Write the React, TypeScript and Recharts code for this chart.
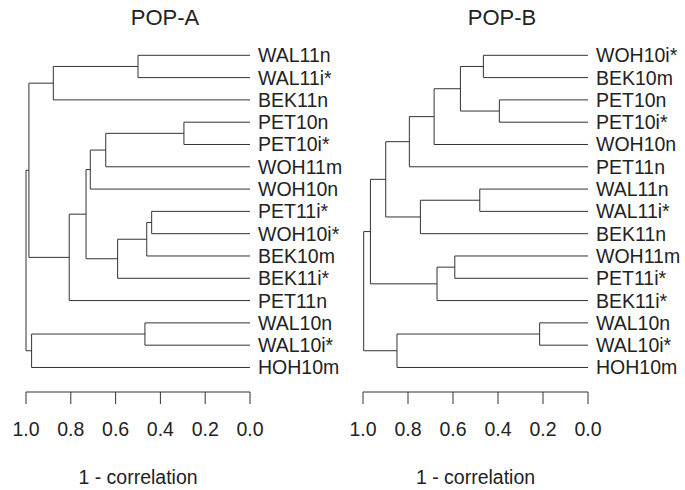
import { LineChart, Line, XAxis, YAxis } from "recharts";

// leaf order, top to bottom, as drawn in each dendrogram
const leavesA = [
  "WAL11n", "WAL11i*", "BEK11n", "PET10n", "PET10i*", "WOH11m", "WOH10n", "PET11i*",
  "WOH10i*", "BEK10m", "BEK11i*", "PET11n", "WAL10n", "WAL10i*", "HOH10m",
];
const leavesB = [
  "WOH10i*", "BEK10m", "PET10n", "PET10i*", "WOH10n", "PET11n", "WAL11n", "WAL11i*",
  "BEK11n", "WOH11m", "PET11i*", "BEK11i*", "WAL10n", "WAL10i*", "HOH10m",
];

// merges: [left, right, height]; a string is a leaf, a number is an earlier merge
type Merge = [string | number, string | number, number];

const mergesA: Merge[] = [
  ["PET10n", "PET10i*", 0.295],
  ["PET11i*", "WOH10i*", 0.439],
  [1, "BEK10m", 0.461],
  ["WAL10n", "WAL10i*", 0.469],
  ["WAL11n", "WAL11i*", 0.5],
  [2, "BEK11i*", 0.591],
  [0, "WOH11m", 0.644],
  [6, "WOH10n", 0.713],
  [7, 5, 0.732],
  [8, "PET11n", 0.807],
  [4, "BEK11n", 0.878],
  [3, "HOH10m", 0.975],
  [10, 9, 0.987],
  [12, 11, 1.0],
];

const mergesB: Merge[] = [
  ["WAL10n", "WAL10i*", 0.215],
  ["PET10n", "PET10i*", 0.394],
  ["WOH10i*", "BEK10m", 0.465],
  ["WAL11n", "WAL11i*", 0.481],
  [2, 1, 0.567],
  ["WOH11m", "PET11i*", 0.592],
  [5, "BEK11i*", 0.671],
  [4, "WOH10n", 0.684],
  [3, "BEK11n", 0.745],
  [7, "PET11n", 0.794],
  [0, "HOH10m", 0.849],
  [9, 8, 0.899],
  [11, 6, 0.967],
  [12, 10, 0.997],
];

const distTicks = [0, 0.2, 0.4, 0.6, 0.8, 1.0];

const FONT = "'Liberation Sans', Arial, Helvetica, sans-serif";
const INK = "#222";

// turn the merge list into one bracket (4-point polyline) per merge
function buildBranches(leaves: string[], merges: Merge[]) {
  const nodes: { x: number; y: number }[] = [];
  const pos = (ref: string | number) =>
    typeof ref === "number" ? nodes[ref] : { x: 0, y: leaves.indexOf(ref) };
  return merges.map(([a, b, h]) => {
    const pa = pos(a);
    const pb = pos(b);
    nodes.push({ x: h, y: (pa.y + pb.y) / 2 });
    return [
      { x: pa.x, y: pa.y },
      { x: h, y: pa.y },
      { x: h, y: pb.y },
      { x: pb.x, y: pb.y },
    ];
  });
}

type PanelProps = {
  title: string;
  leaves: string[];
  merges: Merge[];
  left: number;
  width: number;
  labelWidth: number;
  titleX: number;
};

const Panel = ({ title, leaves, merges, left, width, labelWidth, titleX }: PanelProps) => {
  const branches = buildBranches(leaves, merges);
  return (
    <div style={{ position: "absolute", left, top: 0, width, height: 490 }}>
      <div
        style={{
          position: "absolute",
          left: titleX - 60,
          width: 120,
          top: 7,
          textAlign: "center",
          fontSize: 22,
          lineHeight: "22px",
          color: INK,
        }}
      >
        {title}
      </div>
      <LineChart width={width} height={490} margin={{ top: 33, right: 0, bottom: 0, left: 26 }}>
        <XAxis
          type="number"
          dataKey="x"
          domain={[0, 1]}
          reversed
          ticks={distTicks}
          interval={0}
          tickFormatter={(v: number) => v.toFixed(1)}
          tickSize={12}
          tickMargin={18}
          height={98}
          stroke="#333"
          tick={{ fill: INK, fontSize: 19.5, fontFamily: FONT }}
          label={{
            value: "1 - correlation",
            position: "insideBottom",
            offset: 6,
            fill: INK,
            fontSize: 19.5,
            fontFamily: FONT,
          }}
        />
        <YAxis
          type="number"
          dataKey="y"
          orientation="right"
          domain={[-1, 15.1]}
          reversed
          ticks={leaves.map((_, i) => i)}
          interval={0}
          tickFormatter={(i: number) => leaves[i]}
          axisLine={false}
          tickLine={false}
          width={labelWidth}
          tick={{ fill: INK, fontSize: 19.5, fontFamily: FONT, textAnchor: "start" }}
        />
        {branches.map((pts, i) => (
          <Line
            key={i}
            data={pts}
            dataKey="y"
            type="linear"
            stroke="#333"
            strokeWidth={1}
            dot={false}
            activeDot={false}
            isAnimationActive={false}
          />
        ))}
      </LineChart>
    </div>
  );
};

export default function App() {
  return (
    <div
      style={{
        position: "absolute",
        left: 0,
        top: 0,
        width: 685,
        height: 490,
        background: "#fff",
        fontFamily: FONT,
      }}
    >
      <Panel title="POP-A" leaves={leavesA} merges={mergesA} left={0} width={350} labelWidth={100} titleX={165} />
      <Panel title="POP-B" leaves={leavesB} merges={mergesB} left={337} width={348} labelWidth={97} titleX={165} />
    </div>
  );
}
